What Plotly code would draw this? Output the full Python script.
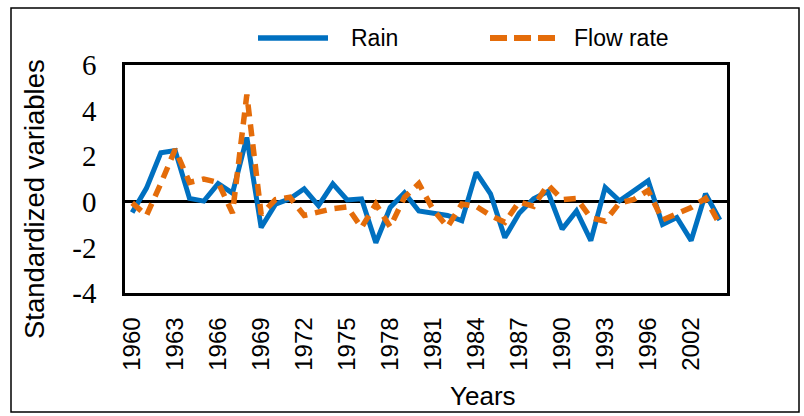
import plotly.graph_objects as go

years = [str(y) for y in range(1960, 1997)] + ["1997", "1998", "2002", "2003", "2004"]
rain = [-0.47, 0.6, 2.15, 2.25, 0.15, 0.03, 0.8, 0.38, 2.82, -1.13,
        -0.1, 0.13, 0.57, -0.17, 0.79, 0.08, 0.13, -1.8, -0.25, 0.4,
        -0.4, -0.5, -0.6, -0.83, 1.29, 0.35, -1.57, -0.5, 0.13, 0.45,
        -1.2, -0.4, -1.7, 0.63, 0.04, 0.48, 0.92, -1.0, -0.69, -1.7,
        0.35, -0.8]
flow = [-0.05, -0.6, 0.8, 2.3, 0.85, 1.0, 0.85, -0.5, 4.7, -0.55,
        0.1, 0.2, -0.6, -0.45, -0.3, -0.22, -1.13, -0.1, -1.1, 0.2,
        0.8, -0.35, -1.1, -0.1, -0.2, -0.6, -0.9, 0.0, -0.2, 0.75,
        0.1, 0.15, -0.7, -0.85, -0.05, 0.1, 0.5, -0.8, -0.5, -0.25,
        0.15, -1.0]
names = ["Rain", "Flow rate"]
colors = ["#0070C0", "#E46C0A"]
y_ticks = [-4, -2, 0, 2, 4, 6]
x_ticks = years[::3]

W, H = 804, 416
L, R, T, B = 125, 727, 65, 293

def xp(px):
    return (px - L) / (R - L)

def yp(py):
    return (B - py) / (B - T)

fig = go.Figure()
fig.add_trace(go.Scatter(x=years, y=rain, mode="lines", name=names[0],
                         line=dict(color=colors[0], width=5), showlegend=False))
fig.add_trace(go.Scatter(x=years, y=flow, mode="lines", name=names[1],
                         line=dict(color=colors[1], width=5.5, dash="12px,8px"), showlegend=False))

shapes = [
    dict(type="rect", xref="paper", yref="paper", x0=xp(11), x1=xp(799), y0=yp(412), y1=yp(8),
         line=dict(color="black", width=1.5), layer="below"),
    dict(type="line", xref="paper", yref="paper", x0=xp(258), x1=xp(328), y0=yp(38), y1=yp(38),
         line=dict(color=colors[0], width=5.5)),
    dict(type="line", xref="paper", yref="paper", x0=xp(490), x1=xp(556), y0=yp(38), y1=yp(38),
         line=dict(color=colors[1], width=6, dash="17px,7px")),
]

annotations = [
    dict(text=names[0], xref="paper", yref="paper", x=xp(349), y=yp(38), xanchor="left", yanchor="middle",
         showarrow=False, font=dict(family="Liberation Sans", size=23, color="black")),
    dict(text=names[1], xref="paper", yref="paper", x=xp(572), y=yp(38), xanchor="left", yanchor="middle",
         showarrow=False, font=dict(family="Liberation Sans", size=23, color="black")),
    dict(text="Standardized variables", xref="paper", yref="paper", x=xp(34), y=yp(199), textangle=-90,
         xanchor="center", yanchor="middle", showarrow=False,
         font=dict(family="Liberation Sans", size=27.5, color="black")),
    dict(text="Years", xref="paper", yref="paper", x=xp(483), y=yp(396), xanchor="center", yanchor="middle",
         showarrow=False, font=dict(family="Liberation Sans", size=26, color="black")),
]

fig.update_layout(
    width=W, height=H,
    margin=dict(l=L, r=W - R, t=T, b=H - B, pad=0),
    paper_bgcolor="white", plot_bgcolor="white",
    shapes=shapes, annotations=annotations,
    xaxis=dict(type="category", range=[-0.5, len(years) - 0.5], tickmode="array",
               tickvals=x_ticks, ticktext=x_ticks, tickangle=-90, showgrid=False,
               showline=True, mirror=True, linecolor="black", linewidth=2.5, ticks="",
               ticklabelstandoff=12,
               tickfont=dict(family="Liberation Sans", size=24, color="black")),
    yaxis=dict(range=[-4, 6], tickmode="array", tickvals=y_ticks, ticktext=[str(v) for v in y_ticks],
               showgrid=False,
               zeroline=True, zerolinecolor="black", zerolinewidth=2.5,
               showline=True, mirror=True, linecolor="black", linewidth=2.5, ticks="",
               ticklabelstandoff=20,
               tickfont=dict(family="Liberation Serif", size=29, color="black")),
)

fig.write_html("out.html", config={"displayModeBar": False},
               post_script="document.body.style.margin='0';document.body.style.padding='0';")
